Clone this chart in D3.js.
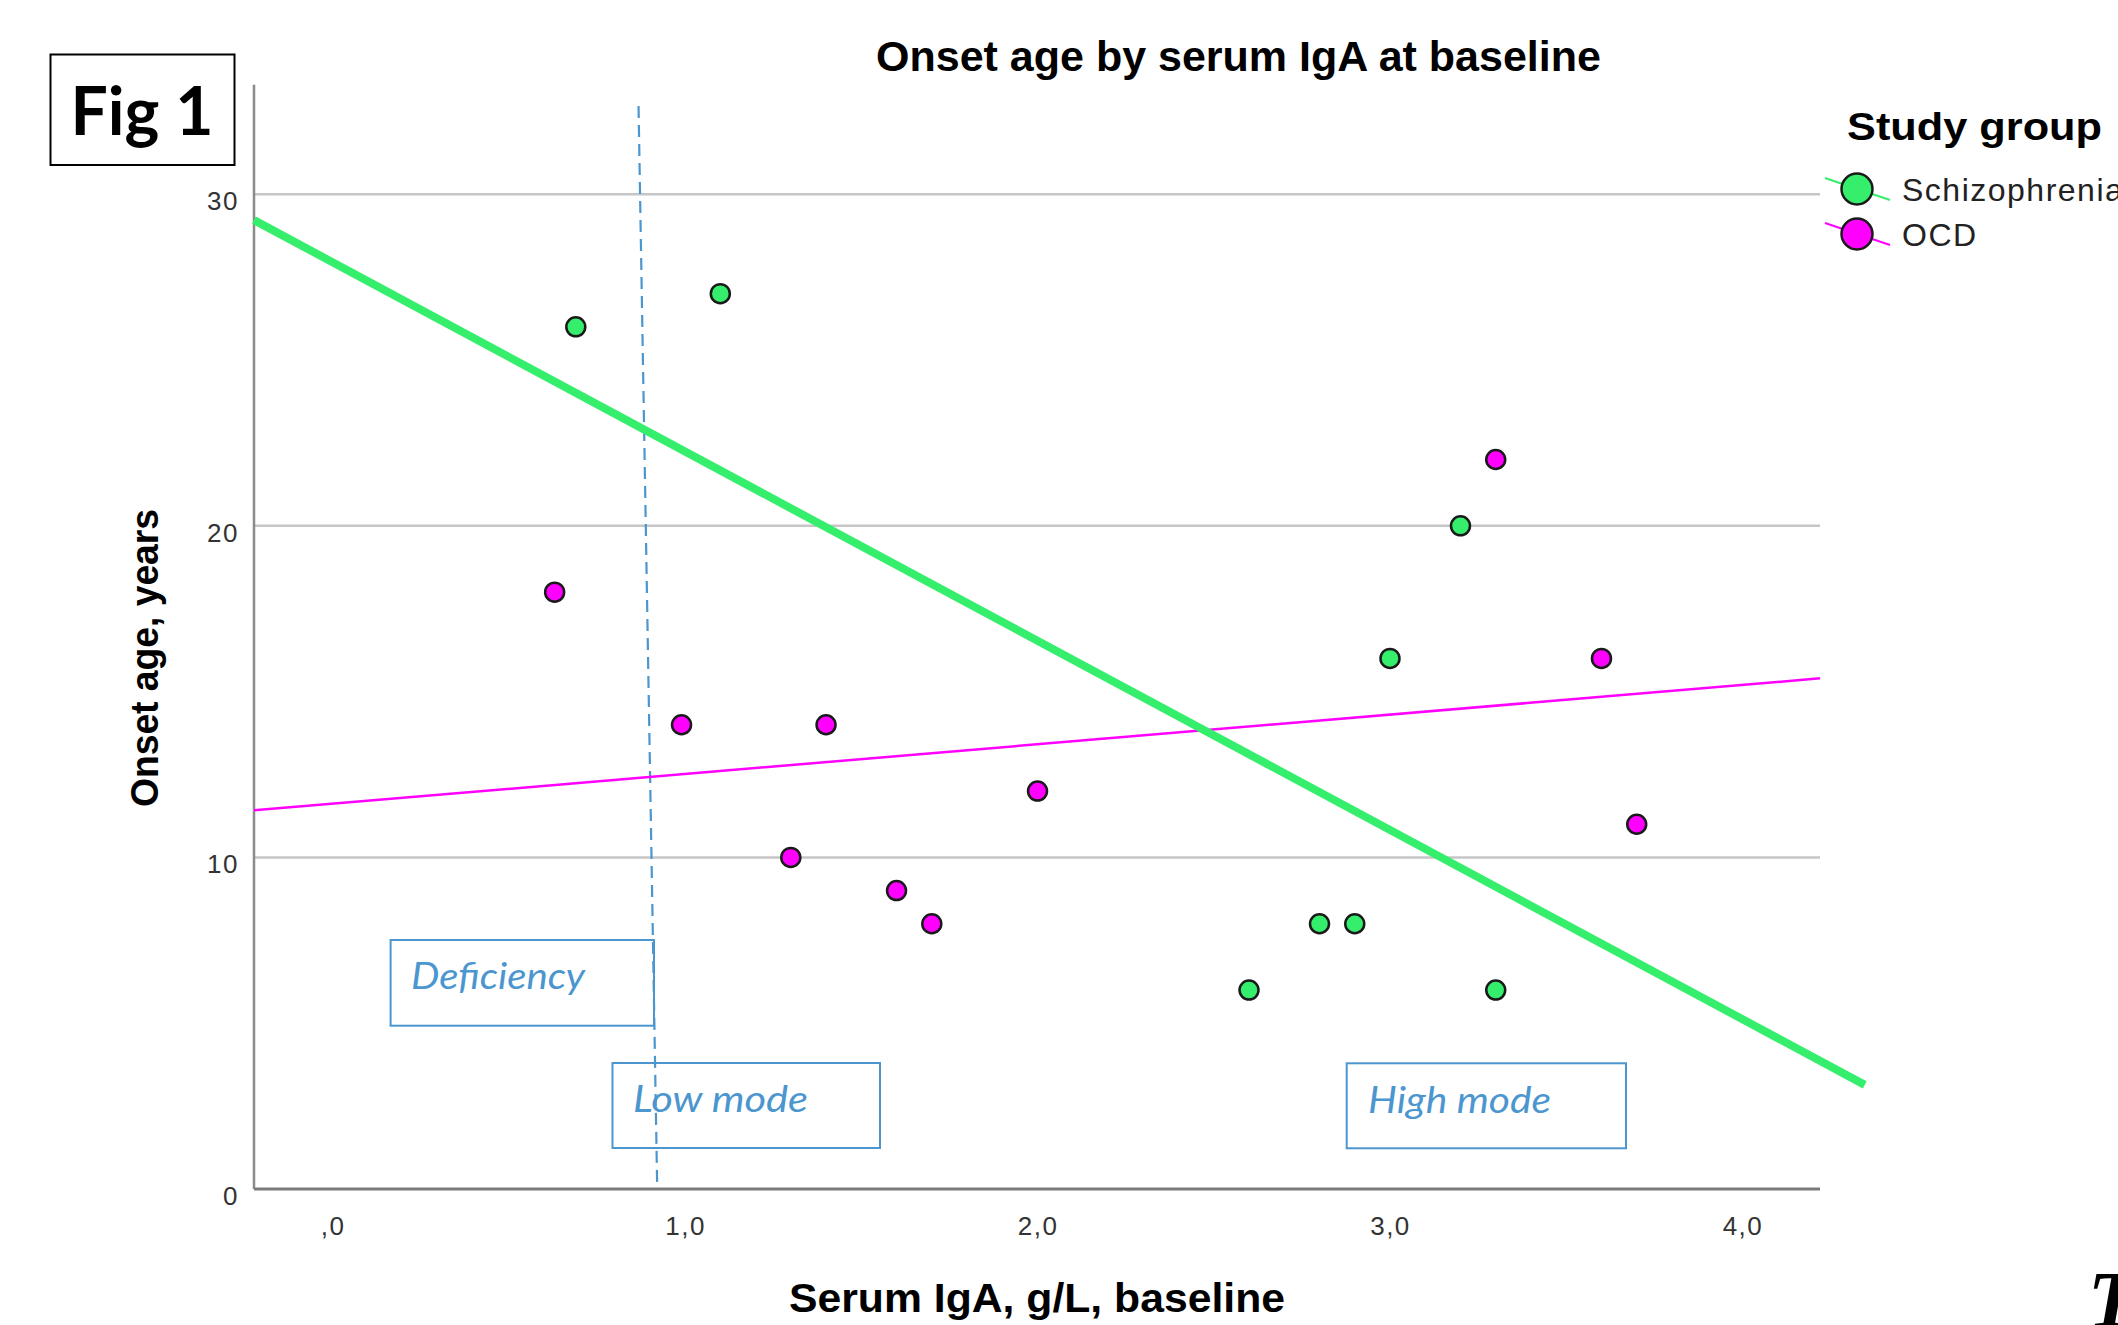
<!DOCTYPE html>
<html>
<head>
<meta charset="utf-8">
<title>Onset age by serum IgA at baseline</title>
<script src="https://cdnjs.cloudflare.com/ajax/libs/d3/7.8.5/d3.min.js"></script>
<style>
  body { margin: 0; background: #fff; }
  svg { display: block; }
</style>
</head>
<body>
<script>
  // study groups and their colours
  var groups = ["Schizophrenia", "OCD"];
  var groupColors = ["#35ef6c", "#ff00ff"];

  // serum IgA (g/L) vs onset age (years)
  var schizIgA = [0.69, 1.1, 2.6, 2.8, 2.9, 3.0, 3.2, 3.3];
  var schizAge = [26, 27, 6, 8, 8, 16, 20, 6];
  var ocdIgA = [0.63, 0.99, 1.3, 1.4, 1.6, 1.7, 2.0, 3.3, 3.6, 3.7];
  var ocdAge = [18, 14, 10, 14, 9, 8, 12, 22, 16, 11];

  // fit lines, end points as drawn
  var schizFitIgA = [-0.223, 4.347];
  var schizFitAge = [29.22, 3.14];
  var ocdFitIgA = [-0.223, 4.22];
  var ocdFitAge = [11.42, 15.40];

  // hand drawn cut-off (dashed, slightly slanted)
  var cutIgA = [0.868, 0.921];
  var cutAge = [32.66, 0];

  // ticks
  var xTickValues = [0, 1, 2, 3, 4];
  var xTickLabels = [",0", "1,0", "2,0", "3,0", "4,0"];
  var yTickValues = [0, 10, 20, 30];
  var yTickLabels = ["0", "10", "20", "30"];

  var annotations = ["Deficiency", "Low mode", "High mode"];

  var width = 2118, height = 1325;
  var sans = "'Liberation Sans', Arial, sans-serif";
  var blue = "#4b96cf";

  var svg = d3.select("body")
    .append("svg")
    .attr("width", width)
    .attr("height", height);

  var x = d3.scaleLinear().domain([-0.223, 4.22]).range([254, 1820]);
  var y = d3.scaleLinear().domain([0, 33.3]).range([1189, 84.8]);

  // gridlines
  svg.append("g")
    .selectAll("line")
    .data(yTickValues.filter(function (d) { return d > 0; }))
    .enter().append("line")
    .attr("x1", x.range()[0]).attr("x2", x.range()[1])
    .attr("y1", function (d) { return y(d); })
    .attr("y2", function (d) { return y(d); })
    .attr("stroke", "#c6c6c6")
    .attr("stroke-width", 2.5);

  // axes (labels only, lines drawn by hand)
  var yAxis = svg.append("g")
    .attr("transform", "translate(" + x.range()[0] + ",0)")
    .call(d3.axisLeft(y).tickValues(yTickValues)
      .tickFormat(function (d, i) { return yTickLabels[i]; })
      .tickSize(0).tickPadding(15));

  var xAxis = svg.append("g")
    .attr("transform", "translate(0," + y(0) + ")")
    .call(d3.axisBottom(x).tickValues(xTickValues)
      .tickFormat(function (d, i) { return xTickLabels[i]; })
      .tickSize(0).tickPadding(28));

  [xAxis, yAxis].forEach(function (g) {
    g.select(".domain").remove();
    g.selectAll(".tick text")
      .style("font-family", sans)
      .style("font-size", "26px")
      .style("letter-spacing", "1.5px")
      .attr("fill", "#333");
  });
  yAxis.selectAll(".tick text").attr("transform", "translate(0,7)");

  svg.append("line")
    .attr("x1", x.range()[0]).attr("x2", x.range()[0])
    .attr("y1", y.range()[1]).attr("y2", y(0))
    .attr("stroke", "#8c8c8c").attr("stroke-width", 2.5);

  svg.append("line")
    .attr("x1", x.range()[0]).attr("x2", x.range()[1])
    .attr("y1", y(0)).attr("y2", y(0))
    .attr("stroke", "#7a7a7a").attr("stroke-width", 3);

  // annotation boxes
  var boxes = [
    { x: 390.6, y: 940, w: 263.4, h: 85.7, tx: 411, ty: 989, tl: 174 },
    { x: 612.5, y: 1063, w: 267.5, h: 85, tx: 633, ty: 1112, tl: 175 },
    { x: 1346.7, y: 1063.3, w: 279.3, h: 85, tx: 1368, ty: 1113, tl: 183 }
  ];
  var ann = svg.append("g")
    .selectAll("g")
    .data(annotations)
    .enter().append("g");
  ann.append("rect")
    .attr("x", function (d, i) { return boxes[i].x; })
    .attr("y", function (d, i) { return boxes[i].y; })
    .attr("width", function (d, i) { return boxes[i].w; })
    .attr("height", function (d, i) { return boxes[i].h; })
    .attr("fill", "#fff")
    .attr("stroke", blue)
    .attr("stroke-width", 2);
  ann.append("text")
    .attr("x", function (d, i) { return boxes[i].tx; })
    .attr("y", function (d, i) { return boxes[i].ty; })
    .attr("textLength", function (d, i) { return boxes[i].tl; })
    .attr("lengthAdjust", "spacingAndGlyphs")
    .style("font-family", "Lato, 'Open Sans', sans-serif")
    .style("font-style", "italic")
    .style("font-size", "37px")
    .attr("fill", blue)
    .text(function (d) { return d; });

  // dashed cut-off line
  var line = d3.line()
    .x(function (d) { return x(d[0]); })
    .y(function (d) { return y(d[1]); });

  svg.append("path")
    .attr("d", line(d3.zip(cutIgA, cutAge)))
    .attr("fill", "none")
    .attr("stroke", blue)
    .attr("stroke-width", 2.2)
    .attr("stroke-dasharray", "12,7");

  // fit lines
  svg.append("path")
    .attr("d", line(d3.zip(ocdFitIgA, ocdFitAge)))
    .attr("fill", "none")
    .attr("stroke", groupColors[1])
    .attr("stroke-width", 2.5);

  svg.append("path")
    .attr("d", line(d3.zip(schizFitIgA, schizFitAge)))
    .attr("fill", "none")
    .attr("stroke", groupColors[0])
    .attr("stroke-width", 8);

  // points
  var series = [d3.zip(schizIgA, schizAge), d3.zip(ocdIgA, ocdAge)];
  series.forEach(function (pts, k) {
    svg.append("g")
      .selectAll("circle")
      .data(pts)
      .enter().append("circle")
      .attr("cx", function (d) { return x(d[0]); })
      .attr("cy", function (d) { return y(d[1]); })
      .attr("r", 9.5)
      .attr("fill", groupColors[k])
      .attr("stroke", "#1a1a1a")
      .attr("stroke-width", 2.5);
  });

  // title and axis titles
  svg.append("text")
    .attr("x", 1238.5).attr("y", 71)
    .attr("text-anchor", "middle")
    .style("font-family", sans).style("font-weight", "bold").style("font-size", "43px")
    .text("Onset age by serum IgA at baseline");

  svg.append("text")
    .attr("x", 1037).attr("y", 1312)
    .attr("text-anchor", "middle")
    .attr("textLength", 496).attr("lengthAdjust", "spacingAndGlyphs")
    .style("font-family", sans).style("font-weight", "bold").style("font-size", "40px")
    .text("Serum IgA, g/L, baseline");

  svg.append("text")
    .attr("transform", "translate(158,658) rotate(-90)")
    .attr("text-anchor", "middle")
    .attr("textLength", 298).attr("lengthAdjust", "spacingAndGlyphs")
    .style("font-family", sans).style("font-weight", "bold").style("font-size", "39px")
    .text("Onset age, years");

  // legend
  var legend = svg.append("g");
  legend.append("text")
    .attr("x", 1847).attr("y", 140)
    .attr("textLength", 255).attr("lengthAdjust", "spacingAndGlyphs")
    .style("font-family", sans).style("font-weight", "bold").style("font-size", "39px")
    .text("Study group");

  var item = legend.selectAll(".item")
    .data(groups)
    .enter().append("g")
    .attr("class", "item")
    .attr("transform", function (d, i) { return "translate(1857," + (189 + i * 45) + ")"; });
  item.append("line")
    .attr("x1", -32).attr("y1", -11).attr("x2", 33).attr("y2", 11)
    .attr("stroke", function (d, i) { return groupColors[i]; })
    .attr("stroke-width", 2);
  item.append("circle")
    .attr("r", 15.5)
    .attr("fill", function (d, i) { return groupColors[i]; })
    .attr("stroke", "#1a1a1a")
    .attr("stroke-width", 2.5);
  item.append("text")
    .attr("x", 45).attr("y", 12)
    .style("font-family", sans).style("font-size", "32px")
    .style("letter-spacing", "1.5px")
    .attr("fill", "#222")
    .text(function (d) { return d; });

  // figure tag
  svg.append("rect")
    .attr("x", 50.5).attr("y", 54.5).attr("width", 184).attr("height", 110.5)
    .attr("fill", "none").attr("stroke", "#000").attr("stroke-width", 2);
  svg.append("text")
    .attr("x", 142).attr("y", 135)
    .attr("text-anchor", "middle")
    .style("font-family", "Lato, sans-serif").style("font-weight", "bold").style("font-size", "66px")
    .text("Fig 1");

  // cut-off glyph at the page edge
  svg.append("text")
    .attr("x", 2088).attr("y", 1327)
    .style("font-family", "'Liberation Serif', serif").style("font-weight", "bold")
    .style("font-style", "italic").style("font-size", "80px")
    .text("T");
</script>
</body>
</html>
